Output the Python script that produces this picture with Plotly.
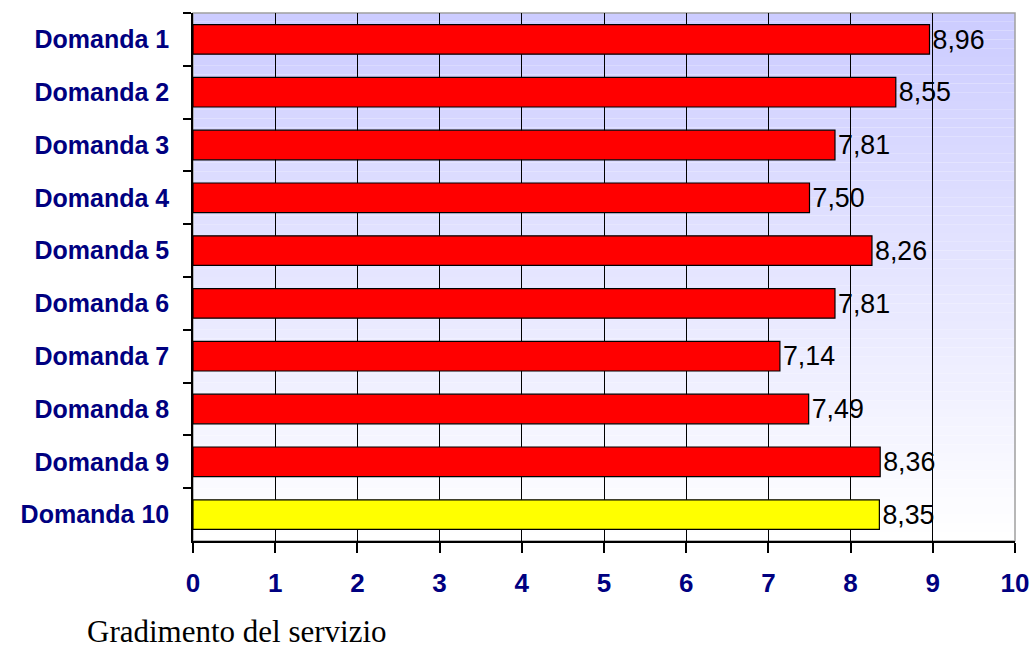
import plotly.graph_objects as go

categories = ["Domanda 1", "Domanda 2", "Domanda 3", "Domanda 4", "Domanda 5",
              "Domanda 6", "Domanda 7", "Domanda 8", "Domanda 9", "Domanda 10"]
values = [8.96, 8.55, 7.81, 7.50, 8.26, 7.81, 7.14, 7.49, 8.36, 8.35]
bar_colors = ["#ff0000"] * 9 + ["#ffff00"]
x_ticks = list(range(0, 11))
title_text = "Gradimento del servizio"

fig = go.Figure()
fig.add_trace(go.Bar(
    y=categories, x=values, orientation="h",
    marker=dict(color=bar_colors, line=dict(color="#000000", width=1.2)),
    texttemplate="%{x:.2f}", textposition="outside", cliponaxis=False,
    textfont=dict(family="Liberation Sans, Arial", size=29, color="#000000"),
    width=0.56,
))

# vertical gradient background (lavender -> white)
shapes = []
n = 60
top = (204, 204, 255)
bot = (255, 255, 255)
for i in range(n):
    t = i / (n - 1)
    r = round(top[0] + (bot[0] - top[0]) * t)
    g = round(top[1] + (bot[1] - top[1]) * t)
    b = round(top[2] + (bot[2] - top[2]) * t)
    shapes.append(dict(type="rect", xref="x domain", yref="y domain",
                       x0=0, x1=1, y0=1 - (i + 1) / n, y1=1 - i / n,
                       fillcolor=f"rgb({r},{g},{b})", line=dict(width=0),
                       layer="below"))
shapes.append(dict(type="rect", xref="x domain", yref="y domain",
                   x0=0, x1=1, y0=0, y1=1, line=dict(color="#a0a0a0", width=1.5),
                   fillcolor="rgba(0,0,0,0)", layer="below"))

fig.update_layout(
    width=1032, height=650,
    margin=dict(l=193, r=17, t=13, b=109),
    paper_bgcolor="#ffffff", plot_bgcolor="rgba(0,0,0,0)",
    separators=",.",
    showlegend=False,
    shapes=shapes,
    annotations=[dict(text=title_text, xref="paper", yref="paper",
                      x=-0.1314, y=-0.172, xanchor="left", yanchor="middle",
                      showarrow=False,
                      font=dict(family="Liberation Serif, Times New Roman", size=31, color="#000000"))],
)
fig.update_xaxes(
    range=[0, 10], tickvals=x_ticks, ticktext=[str(v) for v in x_ticks],
    showgrid=True, gridcolor="#000000", gridwidth=1.2,
    zeroline=False, showline=True, linecolor="#000000", linewidth=1.5,
    ticks="outside", ticklen=10, tickcolor="#000000", tickwidth=1.5,
    tickfont=dict(family="Liberation Sans Narrow, Liberation Sans, Arial", size=26, color="#000080",
                  weight="bold"),
    ticklabelstandoff=8, automargin=False,
)
fig.update_yaxes(
    autorange="reversed", type="category",
    showgrid=False, zeroline=False, showline=True, linecolor="#000000", linewidth=1.5,
    ticks="outside", ticklen=8, tickcolor="#000000", tickwidth=1.5,
    tickson="boundaries",
    tickfont=dict(family="Liberation Sans, Arial", size=25, color="#000080", weight="bold"),
    ticklabelstandoff=17, automargin=False,
)

fig.write_html("out.html", config={"displayModeBar": False},
               post_script="document.body.style.margin='0';document.body.style.overflow='hidden';")
